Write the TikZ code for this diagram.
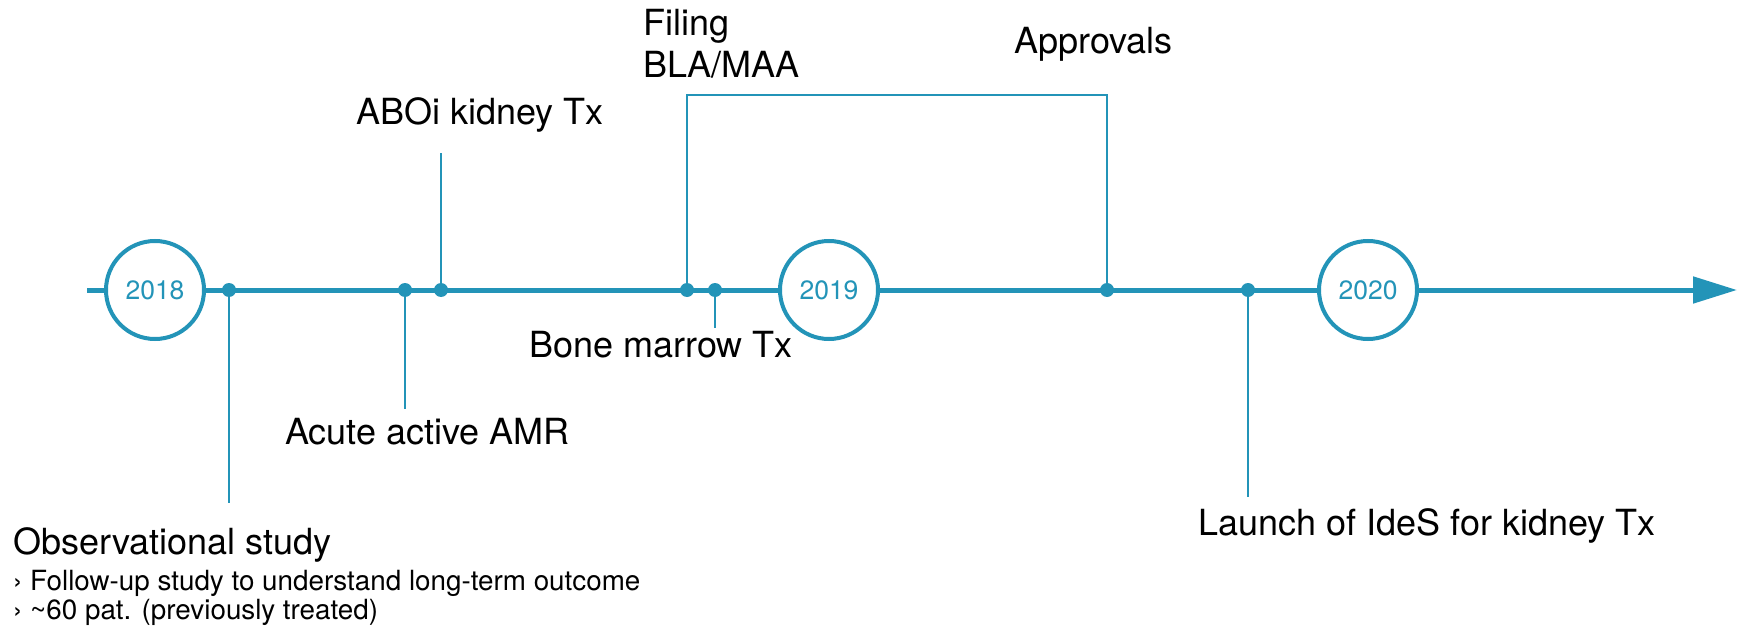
\documentclass[tikz,border=0pt]{standalone}
\usepackage{fontspec}
\setmainfont{TeX Gyre Heros}
\usetikzlibrary{arrows.meta}
\definecolor{tealc}{RGB}{35,148,184}
\begin{document}
\begin{tikzpicture}[x=1pt,y=-1pt,
  lbl/.style={font=\fontsize{36}{42}\selectfont, inner sep=0pt, anchor=west, text=black},
  sublbl/.style={font=\fontsize{27.8}{30}\selectfont, inner sep=0pt, anchor=west, text=black},
  yearc/.style={circle, draw=tealc, line width=4pt, fill=white, minimum size=98pt, inner sep=0pt, text=tealc, font=\fontsize{26.5}{30}\selectfont},
  evdot/.style={circle, fill=tealc, minimum size=14pt, inner sep=0pt},
  tickln/.style={draw=tealc, line width=2.5pt},
  axisln/.style={draw=tealc, line width=5pt}]
\useasboundingbox (0,0) rectangle (1744,628);
% axis
\coordinate (start) at (87,290);
\coordinate (end) at (1737,290);
\draw[axisln, -{Triangle[length=44pt,width=26pt]}] (start) -- (end);
% event dots
\node[evdot] (d1) at (229,290) {};
\node[evdot] (d2) at (405,290) {};
\node[evdot] (d3) at (441,290) {};
\node[evdot] (d4) at (687,290) {};
\node[evdot] (d5) at (715,290) {};
\node[evdot] (d6) at (1107,290) {};
\node[evdot] (d7) at (1248,290) {};
% tick ends
\coordinate (t1) at (229,503);
\coordinate (t2) at (405,409);
\coordinate (t3) at (441,153);
\coordinate (t5) at (715,328);
\coordinate (t7) at (1248,497);
\coordinate (b4) at (687,95);
\coordinate (b6) at (1107,95);
\draw[tickln] (d1.center) -- (t1);
\draw[tickln] (d2.center) -- (t2);
\draw[tickln] (d3.center) -- (t3);
\draw[tickln] (d5.center) -- (t5);
\draw[tickln] (d7.center) -- (t7);
\draw[tickln] (d4.center) -- (b4) -- (b6) -- (d6.center);
% year circles
\node[yearc] (y2018) at (155,290) {2018};
\node[yearc] (y2019) at (829,290) {2019};
\node[yearc] (y2020) at (1368,290) {2020};
% labels
\node[lbl, align=left] (filing) at (643,44) {Filing\\BLA/MAA};
\node[lbl] (appr) at (1014,44) {Approvals};
\node[lbl] (aboi) at (356,115) {ABOi kidney Tx};
\node[lbl] (bone) at (529,345) {Bone marrow Tx};
\node[lbl] (amr) at (285,432) {Acute active AMR};
\node[lbl] (launch) at (1198,526) {Launch of IdeS for kidney Tx};
\node[lbl] (obs) at (13,545) {Observational study};
\node[sublbl] (obs1) at (13,583) {› Follow-up study to understand long-term outcome};
\node[sublbl] (obs2) at (13,612) {› \textasciitilde60 pat. (previously treated)};
\end{tikzpicture}
\end{document}
